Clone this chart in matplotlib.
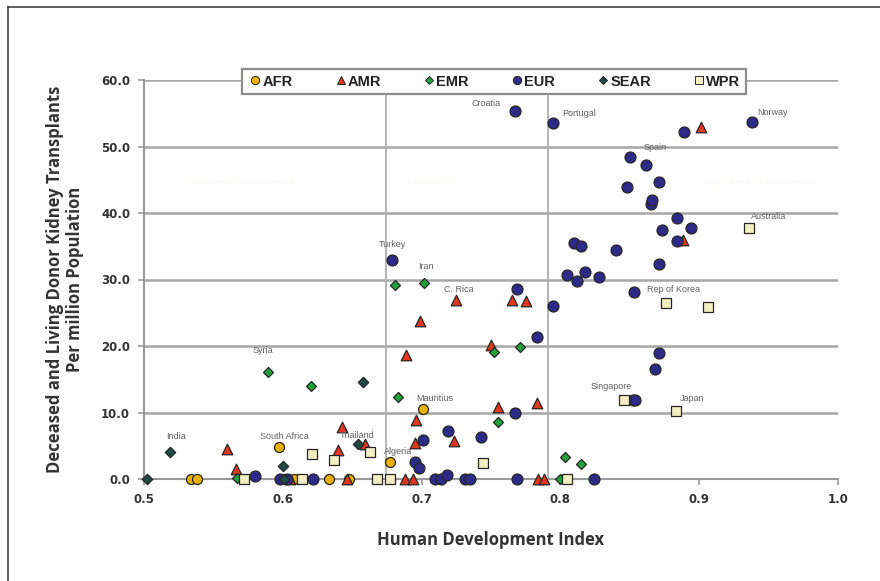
import matplotlib
matplotlib.use('Agg')
import matplotlib.pyplot as plt
from matplotlib.lines import Line2D

# HDI (x) vs transplants per million (y), by WHO region
afr_x = [0.534, 0.538, 0.597, 0.608, 0.633, 0.648, 0.677, 0.701]
afr_y = [0.0, 0.0, 4.8, 0.0, 0.0, 0.0, 2.6, 10.6]

amr_x = [0.560, 0.566, 0.605, 0.640, 0.643, 0.646, 0.659, 0.688, 0.689, 0.694, 0.695, 0.696,
         0.699, 0.723, 0.725, 0.750, 0.755, 0.765, 0.775, 0.783, 0.784, 0.788, 0.888, 0.901]
amr_y = [4.5, 1.5, 0.0, 4.4, 7.8, 0.0, 5.2, 0.0, 18.6, 0.0, 5.4, 8.9,
         23.7, 5.7, 26.9, 20.2, 10.9, 26.9, 26.8, 11.4, 0.0, 0.0, 36.0, 53.0]

emr_x = [0.567, 0.589, 0.620, 0.681, 0.683, 0.702, 0.752, 0.755, 0.771, 0.800, 0.803, 0.815]
emr_y = [0.2, 16.1, 14.0, 29.1, 12.4, 29.5, 19.1, 8.5, 19.9, 0.0, 3.3, 2.2]

eur_x = [0.580, 0.598, 0.603, 0.622, 0.679, 0.695, 0.698, 0.701, 0.710, 0.714, 0.718, 0.719,
         0.731, 0.735, 0.743, 0.767, 0.767, 0.769, 0.769, 0.783, 0.795, 0.795, 0.805, 0.810,
         0.812, 0.815, 0.818, 0.824, 0.828, 0.840, 0.848, 0.850, 0.852, 0.854, 0.853, 0.862,
         0.865, 0.866, 0.868, 0.871, 0.871, 0.871, 0.873, 0.884, 0.884, 0.889, 0.894, 0.938]
eur_y = [0.4, 0.0, 0.0, 0.0, 32.9, 2.6, 1.6, 5.8, 0.0, 0.0, 0.6, 7.2,
         0.0, 0.0, 6.3, 9.9, 55.4, 28.5, 0.0, 21.4, 53.5, 26.0, 30.7, 35.5,
         29.8, 35.0, 31.2, 0.0, 30.4, 34.5, 43.9, 48.4, 11.9, 11.9, 28.1, 47.2,
         41.3, 42.0, 16.5, 44.7, 32.3, 18.9, 37.5, 39.2, 35.8, 52.2, 37.8, 53.7]

sear_x = [0.502, 0.519, 0.600, 0.601, 0.654, 0.658]
sear_y = [0.0, 4.0, 2.0, 0.0, 5.3, 14.6]

wpr_x = [0.572, 0.614, 0.621, 0.637, 0.663, 0.668, 0.677, 0.744, 0.805, 0.846, 0.876, 0.883, 0.906, 0.936]
wpr_y = [0.0, 0.0, 3.7, 2.8, 4.0, 0.0, 0.0, 2.4, 0.0, 11.9, 26.4, 10.2, 25.9, 37.7]

# named countries: (name, x, y)
countries = [
    ('Croatia', 0.767, 55.4), ('Portugal', 0.795, 53.5), ('Norway', 0.938, 53.7),
    ('Spain', 0.848, 48.4), ('Australia', 0.936, 37.7), ('Rep of Korea', 0.876, 26.4),
    ('Singapore', 0.846, 11.9), ('Japan', 0.883, 10.2), ('Turkey', 0.679, 32.9),
    ('Iran', 0.702, 29.5), ('C. Rica', 0.725, 26.9), ('Syria', 0.589, 16.1),
    ('Mauritius', 0.701, 10.6), ('India', 0.519, 4.0), ('South Africa', 0.597, 4.8),
    ('Thailand', 0.654, 5.3), ('Algeria', 0.677, 2.6),
]
# label placement (pixel offset, alignment)
label_pos = {
    'Croatia': (-29, 7, 'center'), 'Portugal': (9, 10, 'left'), 'Norway': (5, 9, 'left'),
    'Spain': (17, 10, 'left'), 'Australia': (2, 12, 'left'), 'Rep of Korea': (-19, 14, 'left'),
    'Singapore': (-34, 13, 'left'), 'Japan': (4, 13, 'left'), 'Turkey': (0, 16, 'center'),
    'Iran': (1, 16, 'center'), 'C. Rica': (3, 11, 'center'), 'Syria': (-5, 21, 'center'),
    'Mauritius': (12, 10, 'center'), 'India': (6, 16, 'center'), 'South Africa': (6, 11, 'center'),
    'Thailand': (-1, 8, 'center'), 'Algeria': (8, 10, 'center'),
}

hdi_cuts = [0.674, 0.791]

fig = plt.figure(figsize=(8.8, 5.81), dpi=100)
ax = fig.add_axes([144/880, 1-479/581, 694/880, 399/581])

grid_c = '#a6a6a6'
for yv in [10, 20, 30, 40, 50, 60]:
    ax.axhline(yv, color=grid_c, lw=1.8, zorder=1)
for xv in hdi_cuts:
    ax.axvline(xv, color='#b0b0b0', lw=1.3, zorder=1)

# faint background captions
for tx, txt in [(0.569, 'Low Human Development'), (0.706, 'Medium HDI'),
                (0.944, 'High Human Development')]:
    ax.text(tx, 44.6, txt, fontsize=6, color='#f9f9f4', ha='center', va='center', zorder=1)

styles = [
    ('AFR', afr_x, afr_y, dict(marker='o', c='#e8b000', s=52)),
    ('AMR', amr_x, amr_y, dict(marker='^', c='#e0381c', s=58)),
    ('EMR', emr_x, emr_y, dict(marker='D', c='#22a03c', s=26)),
    ('EUR', eur_x, eur_y, dict(marker='o', c='#2e2a88', s=62)),
    ('SEAR', sear_x, sear_y, dict(marker='D', c='#1c4c44', s=28)),
    ('WPR', wpr_x, wpr_y, dict(marker='s', c='#f2f0c2', s=50)),
]
handles = []
for name, xs, ys, st in styles:
    ax.scatter(xs, ys, edgecolors='#262626', linewidths=0.9, zorder=3, clip_on=False, **st)
    mk = st['marker']
    handles.append(Line2D([], [], ls='none', marker=mk, markerfacecolor=st['c'],
                          markeredgecolor='#262626', markeredgewidth=0.7,
                          markersize=6 if mk in 'o^s' else 4.5, label=name))

for name, x, y in countries:
    dx, dy, ha = label_pos[name]
    ax.annotate(name, (x, y), xytext=(dx, dy), textcoords='offset pixels',
                ha=ha, va='center', fontsize=6.5, color='#606060',
                family='Liberation Sans', zorder=4)

ax.set_xlim(0.5, 1.0)
ax.set_ylim(0, 60)
ax.set_xticks([0.5, 0.6, 0.7, 0.8, 0.9, 1.0])
ax.set_xticklabels(['0.5', '0.6', '0.7', '0.8', '0.9', '1.0'])
ax.set_yticks([0, 10, 20, 30, 40, 50, 60])
ax.set_yticklabels(['%.1f' % v for v in [0, 10, 20, 30, 40, 50, 60]])
for lab in ax.get_xticklabels() + ax.get_yticklabels():
    lab.set_fontweight('bold')
    lab.set_fontsize(8.5)
    lab.set_color('#333333')
ax.tick_params(axis='both', color='#999999', length=4, width=1.2, pad=6)
for s in ['top', 'right']:
    ax.spines[s].set_visible(False)
for s in ['left', 'bottom']:
    ax.spines[s].set_color('#999999')
    ax.spines[s].set_linewidth(1.5)

ax.set_xlabel('Human Development Index', fontsize=12, fontweight='bold',
              family='Open Sans', color='#333333', labelpad=18)
ax.set_ylabel('Deceased and Living Donor Kidney Transplants\nPer million Population',
              fontsize=12, fontweight='bold', family='Open Sans', color='#333333',
              labelpad=12, linespacing=1.15)

leg = fig.legend(handles=handles, loc='center', ncol=6, mode='expand',
                 bbox_to_anchor=(242/880, 1-98/581, 504/880, 33/581),
                 prop={'family': 'Liberation Sans', 'weight': 'bold', 'size': 10.5},
                 handletextpad=0.0, handlelength=1.0, borderaxespad=0,
                 fancybox=False, framealpha=1, edgecolor='#8c8c8c')
leg.get_frame().set_linewidth(1.6)
for t in leg.get_texts():
    t.set_color('#222222')

# outer frame of the picture
fig.add_artist(Line2D([8/880, 8/880], [0, 1-7/581], transform=fig.transFigure,
                      color='#444444', lw=1.2))
fig.add_artist(Line2D([8/880, 1], [1-7/581, 1-7/581], transform=fig.transFigure,
                      color='#444444', lw=1.2))

fig.savefig('out.png', dpi=100)
